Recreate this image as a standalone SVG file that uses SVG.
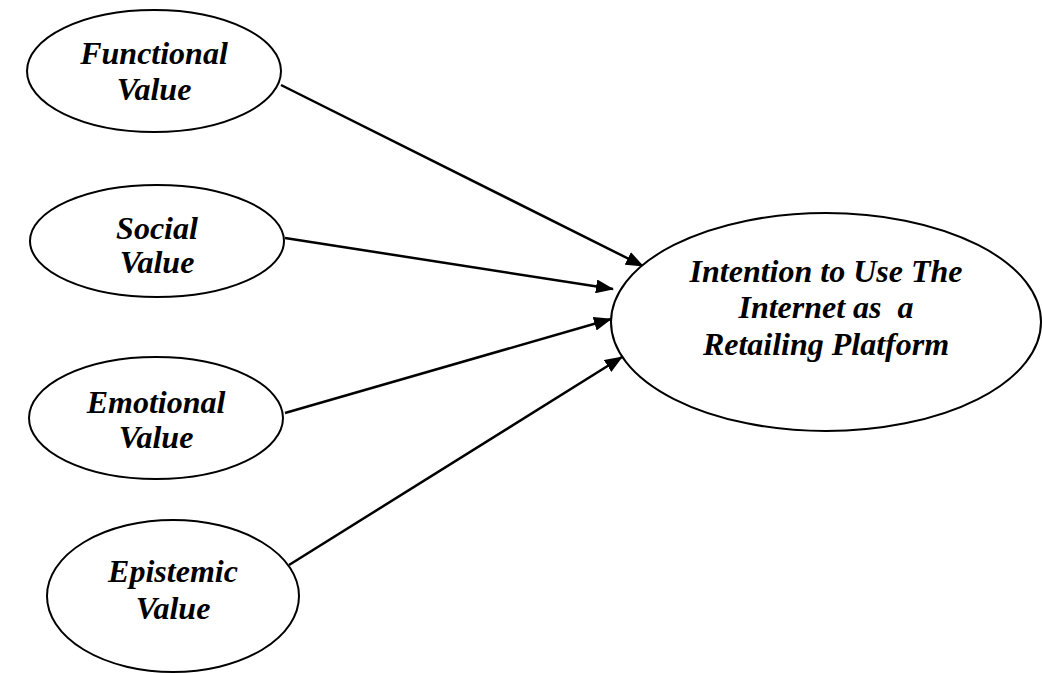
<svg xmlns="http://www.w3.org/2000/svg" width="1042" height="673" viewBox="0 0 1042 673">
<defs>
<marker id="arr" markerWidth="18" markerHeight="14" refX="17" refY="7" orient="auto" markerUnits="userSpaceOnUse">
<path d="M0,0 L18,7 L0,14 Z" fill="#000"/>
</marker>
<style>
.n{fill:#fff;stroke:#000;stroke-width:2}
.t{font-family:"Liberation Serif","Times New Roman",serif;font-weight:bold;font-style:italic;font-size:32px;text-anchor:middle;fill:#000}
.c{stroke:#000;stroke-width:2.5;fill:none;marker-end:url(#arr)}
</style>
</defs>
<rect width="1042" height="673" fill="#fff"/>
<g id="connectors">
<line class="c" x1="281" y1="85" x2="643" y2="266"/>
<line class="c" x1="285" y1="238" x2="613" y2="289"/>
<line class="c" x1="285" y1="413" x2="611" y2="319"/>
<line class="c" x1="289" y1="565" x2="622" y2="357"/>
</g>
<g id="functional">
<ellipse class="n" cx="154" cy="71" rx="127" ry="61"/>
<text class="t" x="154" y="64">Functional</text>
<text class="t" x="154" y="100">Value</text>
</g>
<g id="social">
<ellipse class="n" cx="157" cy="241" rx="127" ry="56"/>
<text class="t" x="157" y="239">Social</text>
<text class="t" x="157" y="273">Value</text>
</g>
<g id="emotional">
<ellipse class="n" cx="156" cy="418" rx="127" ry="61"/>
<text class="t" x="156" y="413">Emotional</text>
<text class="t" x="156" y="448">Value</text>
</g>
<g id="epistemic">
<ellipse class="n" cx="173" cy="596" rx="126" ry="76"/>
<text class="t" x="173" y="582">Epistemic</text>
<text class="t" x="173" y="619">Value</text>
</g>
<g id="intention">
<ellipse class="n" cx="826" cy="322" rx="215" ry="109"/>
<text class="t" x="826" y="282">Intention to Use The</text>
<text class="t" x="826" y="318" xml:space="preserve">Internet as  a</text>
<text class="t" x="826" y="355">Retailing Platform</text>
</g>
</svg>
